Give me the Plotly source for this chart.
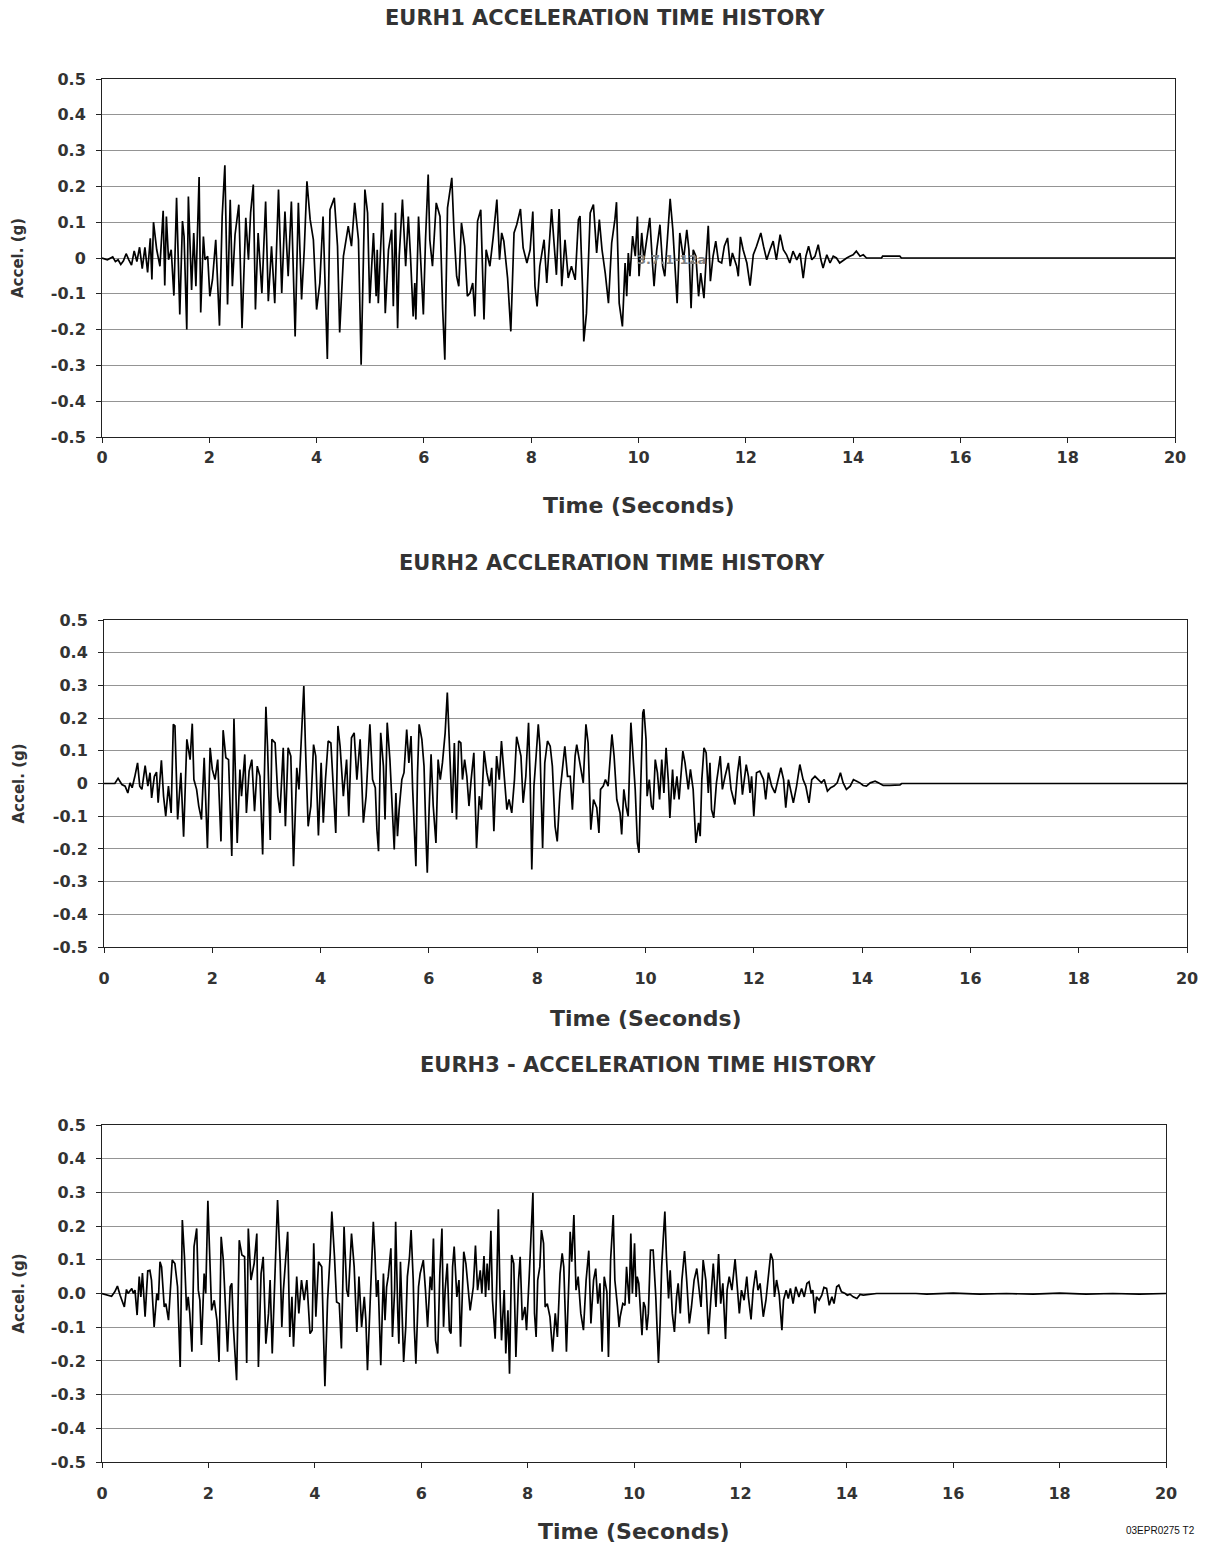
import plotly.graph_objects as go

# ---------------- DATA (time s, acceleration g) ----------------
EURH1 = [(0.0,0.0),(0.1,-0.005),(0.2,0.003),(0.25,-0.01),(0.3,-0.005),(0.35,-0.018),(0.4,-0.008),(0.45,0.012),
 (0.5,-0.005),(0.55,-0.02),(0.6,0.02),(0.65,-0.01),(0.7,0.03),(0.75,-0.03),(0.8,0.03),(0.85,-0.04),(0.9,0.055),
 (0.93,-0.06),(0.96,0.1),(1.02,0.023),(1.08,-0.023),(1.14,0.132),(1.17,-0.077),(1.2,0.116),(1.24,-0.005),
 (1.29,0.023),(1.34,-0.105),(1.39,0.168),(1.45,-0.158),(1.5,0.103),(1.53,0.06),(1.58,-0.2),(1.61,0.172),
 (1.67,-0.089),(1.71,0.07),(1.75,-0.079),(1.81,0.226),(1.84,-0.152),(1.89,0.06),(1.92,-0.005),(1.97,0.005),
 (2.01,-0.107),(2.06,-0.06),(2.12,0.051),(2.19,-0.189),(2.24,0.116),(2.29,0.259),(2.34,-0.13),(2.39,0.163),
 (2.43,-0.079),(2.48,0.065),(2.55,0.149),(2.61,-0.196),(2.68,0.112),(2.73,-0.005),(2.77,0.126),(2.82,0.205),
 (2.86,-0.144),(2.91,0.07),(2.98,-0.098),(3.05,0.158),(3.1,-0.121),(3.16,0.033),(3.22,-0.126),(3.29,0.191),
 (3.35,-0.098),(3.41,0.13),(3.47,-0.051),(3.53,0.158),(3.6,-0.219),(3.66,0.154),(3.72,-0.116),(3.77,0.023),
 (3.82,0.214),(3.88,0.107),(3.94,0.051),(4.0,-0.144),(4.06,-0.07),(4.12,0.116),(4.2,-0.282),(4.25,0.135),
 (4.33,0.168),(4.39,0.033),(4.43,-0.208),(4.5,0.005),(4.59,0.089),(4.65,0.033),(4.71,0.154),(4.78,0.051),
 (4.83,-0.298),(4.9,0.191),(4.95,0.126),(4.99,-0.126),(5.06,0.07),(5.11,-0.107),(5.13,0.023),(5.15,-0.126),
 (5.23,0.154),(5.28,-0.154),(5.34,0.023),(5.4,0.079),(5.43,-0.135),(5.47,0.126),(5.51,-0.196),(5.54,0.005),
 (5.6,0.163),(5.66,-0.023),(5.71,0.116),(5.75,0.005),(5.8,-0.163),(5.83,-0.07),(5.85,-0.172),(5.9,0.116),
 (5.94,-0.014),(5.99,-0.158),(6.03,0.051),(6.08,0.233),(6.11,0.051),(6.16,-0.023),(6.23,0.154),(6.3,0.116),
 (6.35,-0.144),(6.39,-0.284),(6.44,0.14),(6.49,0.191),(6.52,0.224),(6.56,0.079),(6.61,-0.051),(6.65,-0.079),
 (6.7,0.098),(6.76,0.033),(6.81,-0.107),(6.86,-0.098),(6.91,-0.07),(6.95,-0.163),(7.0,0.103),(7.06,0.135),
 (7.12,-0.172),(7.16,0.023),(7.23,-0.023),(7.29,0.056),(7.36,0.163),(7.41,-0.005),(7.45,0.07),(7.49,0.047),
 (7.56,-0.056),(7.62,-0.205),(7.68,0.07),(7.73,0.093),(7.8,0.137),(7.85,0.028),(7.92,-0.014),(7.98,0.023),
 (8.03,0.13),(8.07,-0.079),(8.11,-0.135),(8.16,-0.023),(8.24,0.051),(8.29,-0.07),(8.34,0.061),(8.38,0.137),
 (8.43,0.033),(8.47,-0.047),(8.52,0.137),(8.57,-0.079),(8.63,0.051),(8.69,-0.056),(8.75,-0.023),(8.82,-0.061),
 (8.88,0.107),(8.91,0.117),(8.96,-0.098),(8.98,-0.233),(9.03,-0.154),(9.1,0.126),(9.16,0.149),(9.22,0.014),
 (9.27,0.107),(9.32,0.023),(9.38,-0.042),(9.44,-0.126),(9.5,0.042),(9.56,0.107),(9.59,0.156),(9.64,-0.126),
 (9.7,-0.191),(9.75,-0.014),(9.78,-0.107),(9.81,0.014),(9.84,-0.051),(9.89,0.061),(9.94,0.005),(9.98,0.116),
 (10.01,-0.051),(10.06,0.07),(10.1,-0.005),(10.15,0.051),(10.21,0.112),(10.26,-0.014),(10.29,-0.079),
 (10.34,0.023),(10.4,0.093),(10.45,-0.023),(10.49,-0.051),(10.54,0.056),(10.59,0.165),(10.64,0.079),
 (10.68,-0.023),(10.72,-0.126),(10.77,0.07),(10.84,-0.005),(10.9,0.079),(10.94,0.023),(10.98,-0.14),
 (11.02,0.023),(11.07,0.005),(11.12,-0.107),(11.16,-0.042),(11.22,-0.112),(11.26,-0.005),(11.3,0.09),
 (11.34,-0.065),(11.39,0.005),(11.44,0.047),(11.49,-0.009),(11.55,-0.014),(11.6,0.033),(11.66,0.056),
 (11.71,-0.023),(11.75,0.014),(11.83,-0.023),(11.86,-0.051),(11.9,0.059),(11.95,0.023),(12.02,-0.014),
 (12.08,-0.077),(12.14,0.009),(12.2,0.033),(12.28,0.07),(12.33,0.033),(12.39,-0.005),(12.45,0.023),
 (12.51,0.047),(12.57,-0.005),(12.64,0.065),(12.7,0.023),(12.76,0.009),(12.82,-0.014),(12.88,0.019),
 (12.95,-0.005),(13.01,0.014),(13.07,-0.056),(13.12,0.005),(13.17,0.033),(13.23,-0.005),(13.29,0.005),
 (13.35,0.037),(13.4,-0.005),(13.44,-0.028),(13.51,0.009),(13.57,-0.014),(13.63,0.005),(13.69,0.0),
 (13.75,-0.014),(13.82,-0.005),(13.88,0.0),(13.94,0.005),(14.0,0.009),(14.06,0.019),(14.13,0.005),
 (14.19,0.009),(14.25,0.0),(14.53,0.0),(14.55,0.005),(14.87,0.005),(14.9,0.0),(20.0,0.0)]

EURH2 = [(0.0,0.0),(0.2,0.0),(0.26,0.016),(0.33,-0.003),(0.39,-0.008),(0.44,-0.029),(0.48,0.002),(0.52,-0.013),
 (0.57,0.022),(0.62,0.063),(0.66,-0.008),(0.7,-0.018),(0.76,0.055),(0.81,-0.008),(0.85,0.033),(0.88,-0.044),
 (0.93,0.022),(0.97,0.035),(1.0,-0.059),(1.06,0.071),(1.1,-0.039),(1.14,-0.1),(1.19,-0.008),(1.24,-0.09),
 (1.28,0.181),(1.31,0.176),(1.36,-0.11),(1.42,0.033),(1.47,-0.163),(1.53,0.135),(1.59,0.073),(1.63,0.183),
 (1.66,0.012),(1.71,-0.018),(1.75,-0.069),(1.8,-0.11),(1.85,0.079),(1.91,-0.197),(1.96,0.109),(2.0,0.043),
 (2.05,0.012),(2.1,0.073),(2.16,-0.177),(2.2,0.163),(2.25,0.079),(2.3,0.073),(2.36,-0.222),(2.4,0.198),
 (2.46,-0.182),(2.51,0.043),(2.54,-0.039),(2.6,0.089),(2.63,-0.09),(2.68,0.038),(2.73,0.073),(2.78,-0.085),
 (2.83,0.053),(2.88,0.022),(2.93,-0.217),(2.99,0.235),(3.02,0.114),(3.07,-0.173),(3.1,0.135),(3.16,0.124),
 (3.21,-0.039),(3.25,-0.09),(3.31,0.109),(3.35,-0.131),(3.4,0.109),(3.45,0.084),(3.5,-0.253),(3.56,0.048),
 (3.6,-0.018),(3.64,0.109),(3.69,0.298),(3.72,0.114),(3.77,-0.131),(3.82,-0.069),(3.87,0.119),(3.91,0.084),
 (3.96,-0.159),(4.01,0.063),(4.05,-0.12),(4.09,0.012),(4.14,0.13),(4.19,0.124),(4.24,-0.039),(4.28,-0.151),
 (4.32,0.176),(4.36,0.114),(4.42,-0.039),(4.48,0.073),(4.52,-0.1),(4.57,0.14),(4.62,0.155),(4.67,0.012),
 (4.73,0.135),(4.79,-0.12),(4.84,-0.039),(4.91,0.181),(4.96,0.012),(5.01,-0.013),(5.04,-0.141),(5.07,-0.207),
 (5.11,0.155),(5.16,0.053),(5.19,-0.11),(5.23,0.186),(5.28,0.073),(5.31,-0.049),(5.36,-0.202),(5.39,-0.029),
 (5.42,-0.161),(5.45,-0.08),(5.5,0.012),(5.54,0.033),(5.59,0.165),(5.63,0.063),(5.67,0.145),(5.7,-0.018),
 (5.73,-0.151),(5.76,-0.253),(5.79,0.033),(5.82,0.181),(5.87,0.135),(5.91,0.053),(5.95,-0.182),(5.97,-0.273),
 (6.0,-0.1),(6.04,0.089),(6.08,-0.069),(6.13,-0.182),(6.17,0.073),(6.21,0.012),(6.25,0.063),(6.3,0.155),
 (6.34,0.278),(6.39,0.084),(6.43,-0.09),(6.47,0.124),(6.51,-0.11),(6.55,0.13),(6.59,0.124),(6.62,0.012),
 (6.66,0.073),(6.7,0.022),(6.74,-0.069),(6.78,0.012),(6.83,0.094),(6.88,-0.197),(6.93,-0.039),(6.97,-0.08),
 (7.02,0.099),(7.07,0.033),(7.12,-0.008),(7.16,0.048),(7.2,-0.146),(7.25,0.084),(7.3,0.012),(7.34,0.13),
 (7.39,0.022),(7.44,-0.08),(7.48,-0.049),(7.53,-0.09),(7.58,0.012),(7.62,0.143),(7.66,0.114),(7.7,0.084),
 (7.74,-0.059),(7.79,0.022),(7.84,0.186),(7.87,0.012),(7.9,-0.263),(7.94,-0.008),(7.98,0.084),(8.02,0.181),
 (8.05,0.114),(8.1,-0.197),(8.14,0.063),(8.19,0.13),(8.24,0.114),(8.28,0.053),(8.33,-0.131),(8.37,-0.177),
 (8.42,-0.029),(8.47,0.053),(8.51,0.114),(8.56,0.022),(8.61,0.022),(8.65,-0.08),(8.7,0.084),(8.73,0.119),
 (8.79,0.063),(8.85,0.002),(8.9,0.181),(8.94,0.124),(8.99,-0.141),(9.04,-0.049),(9.1,-0.074),(9.14,-0.151),
 (9.17,-0.018),(9.22,-0.008),(9.26,0.012),(9.31,-0.008),(9.38,0.15),(9.42,0.084),(9.47,-0.049),(9.53,-0.09),
 (9.56,-0.156),(9.6,-0.018),(9.64,-0.069),(9.68,-0.1),(9.73,0.186),(9.78,0.063),(9.81,-0.018),(9.85,-0.182),
 (9.88,-0.212),(9.91,-0.018),(9.95,0.216),(9.97,0.227),(10.01,0.135),(10.03,-0.039),(10.07,0.012),
 (10.11,-0.069),(10.14,-0.08),(10.18,0.073),(10.22,0.033),(10.26,-0.049),(10.3,0.073),(10.34,-0.029),
 (10.38,0.109),(10.42,0.012),(10.45,-0.105),(10.5,0.043),(10.53,-0.049),(10.58,0.022),(10.62,-0.049),
 (10.69,0.099),(10.73,0.063),(10.79,-0.018),(10.83,0.043),(10.88,-0.018),(10.93,-0.182),(10.98,-0.12),
 (11.01,-0.161),(11.04,0.012),(11.08,0.109),(11.12,0.094),(11.16,-0.029),(11.19,0.063),(11.22,-0.08),
 (11.26,-0.105),(11.31,0.002),(11.38,0.084),(11.42,-0.018),(11.47,0.022),(11.53,0.063),(11.58,-0.018),
 (11.65,-0.064),(11.7,0.033),(11.74,0.084),(11.79,-0.034),(11.86,0.058),(11.9,0.022),(11.93,-0.029),
 (11.96,0.022),(12.0,-0.1),(12.05,0.033),(12.11,0.038),(12.18,0.012),(12.22,-0.049),(12.27,0.033),
 (12.33,-0.008),(12.39,-0.029),(12.45,0.012),(12.5,0.048),(12.55,0.012),(12.59,-0.074),(12.64,0.012),
 (12.68,-0.018),(12.73,-0.059),(12.79,-0.008),(12.85,0.058),(12.91,0.012),(12.96,-0.008),(13.02,-0.059),
 (13.07,0.012),(13.13,0.022),(13.19,0.012),(13.25,0.002),(13.3,0.012),(13.36,-0.023),(13.42,-0.013),
 (13.48,-0.008),(13.54,0.002),(13.6,0.033),(13.65,0.002),(13.71,-0.018),(13.78,-0.008),(13.84,0.012),
 (13.9,0.007),(13.96,0.002),(14.02,-0.006),(14.08,-0.008),(14.15,0.002),(14.24,0.007),(14.3,0.002),
 (14.39,-0.006),(14.51,-0.006),(14.7,-0.004),(14.73,0.0),(20.0,0.0)]

EURH3 = [(0.0,0.0),(0.18,-0.008),(0.24,0.005),(0.29,0.022),(0.34,-0.005),(0.42,-0.04),(0.46,0.012),(0.49,0.0),
 (0.56,0.015),(0.59,0.0),(0.62,0.01),(0.66,-0.064),(0.7,0.05),(0.73,-0.01),(0.76,0.061),(0.81,-0.069),
 (0.86,0.067),(0.9,0.069),(0.93,0.04),(0.98,-0.099),(1.03,0.0),(1.06,-0.02),(1.09,0.094),(1.12,0.079),
 (1.17,-0.04),(1.2,-0.03),(1.25,-0.079),(1.29,0.04),(1.32,0.099),(1.37,0.089),(1.42,0.02),(1.47,-0.218),
 (1.51,0.218),(1.55,0.109),(1.59,-0.05),(1.62,-0.01),(1.65,-0.059),(1.69,-0.173),(1.73,0.139),(1.78,0.193),
 (1.81,0.01),(1.84,-0.02),(1.87,-0.153),(1.92,0.059),(1.95,0.0),(1.99,0.275),(2.03,0.099),(2.06,-0.05),
 (2.11,-0.02),(2.16,-0.079),(2.2,-0.203),(2.24,0.168),(2.28,0.099),(2.31,-0.01),(2.36,-0.173),(2.41,0.02),
 (2.44,0.03),(2.47,-0.099),(2.5,-0.168),(2.53,-0.257),(2.58,0.158),(2.63,0.114),(2.68,0.109),(2.72,-0.206),
 (2.75,0.193),(2.8,0.04),(2.86,0.089),(2.91,0.178),(2.94,-0.218),(2.99,0.059),(3.03,0.109),(3.08,-0.149),
 (3.13,-0.059),(3.16,0.04),(3.2,-0.178),(3.25,0.069),(3.3,0.277),(3.35,0.089),(3.38,-0.099),(3.41,0.01),
 (3.46,0.119),(3.49,0.183),(3.53,-0.129),(3.57,-0.01),(3.6,-0.158),(3.63,-0.04),(3.66,0.05),(3.7,-0.059),
 (3.75,0.04),(3.8,-0.02),(3.85,0.04),(3.91,-0.119),(3.95,-0.109),(3.98,0.149),(4.02,-0.069),(4.07,0.094),
 (4.13,0.079),(4.19,-0.275),(4.24,-0.02),(4.29,0.119),(4.32,0.243),(4.37,0.109),(4.41,-0.025),(4.46,-0.03),
 (4.5,-0.163),(4.55,0.198),(4.6,0.01),(4.63,-0.01),(4.69,0.178),(4.74,0.079),(4.79,-0.114),(4.83,0.05),
 (4.88,-0.099),(4.93,-0.01),(4.96,-0.079),(4.99,-0.228),(5.04,-0.01),(5.07,0.139),(5.1,0.213),(5.13,0.119),
 (5.16,-0.01),(5.19,0.04),(5.24,-0.213),(5.29,0.059),(5.32,-0.079),(5.35,0.02),(5.38,0.05),(5.43,0.134),
 (5.46,-0.129),(5.5,0.01),(5.52,0.213),(5.56,-0.059),(5.58,-0.149),(5.61,0.094),(5.65,-0.099),(5.67,-0.203),
 (5.71,-0.099),(5.74,0.05),(5.78,0.109),(5.81,0.188),(5.85,0.04),(5.87,-0.099),(5.9,-0.208),(5.95,0.02),
 (5.98,0.059),(6.04,0.099),(6.08,0.01),(6.12,-0.099),(6.17,0.05),(6.2,0.01),(6.23,0.163),(6.27,-0.139),
 (6.31,-0.178),(6.35,0.059),(6.39,0.193),(6.42,-0.099),(6.45,0.01),(6.49,0.089),(6.53,-0.109),(6.56,-0.119),
 (6.59,0.079),(6.62,0.139),(6.67,-0.01),(6.71,0.04),(6.74,-0.158),(6.78,0.059),(6.8,0.124),(6.84,0.089),
 (6.89,0.01),(6.92,-0.05),(6.98,0.02),(7.02,0.142),(7.06,0.01),(7.11,0.069),(7.14,0.0),(7.18,0.111),
 (7.21,-0.01),(7.24,0.089),(7.27,0.01),(7.31,0.186),(7.34,-0.02),(7.39,-0.134),(7.42,0.03),(7.45,0.25),
 (7.48,0.01),(7.51,-0.139),(7.56,0.01),(7.59,-0.178),(7.63,-0.05),(7.66,-0.238),(7.7,0.114),(7.74,0.089),
 (7.78,-0.188),(7.83,0.04),(7.86,0.109),(7.9,-0.079),(7.95,-0.04),(7.98,-0.109),(8.03,0.05),(8.06,0.168),
 (8.1,0.299),(8.13,-0.059),(8.16,-0.129),(8.19,0.04),(8.23,0.079),(8.26,0.188),(8.3,0.149),(8.33,-0.04),
 (8.37,-0.03),(8.42,-0.069),(8.47,-0.173),(8.52,-0.059),(8.56,-0.129),(8.61,0.059),(8.65,0.119),(8.68,0.079),
 (8.73,-0.173),(8.78,0.059),(8.8,0.183),(8.83,0.094),(8.87,0.233),(8.91,0.01),(8.95,0.05),(9.0,-0.059),
 (9.05,-0.109),(9.1,0.04),(9.15,0.127),(9.19,-0.089),(9.24,0.04),(9.28,0.074),(9.32,-0.03),(9.36,0.03),
 (9.4,-0.173),(9.44,0.05),(9.49,0.005),(9.52,-0.188),(9.56,0.099),(9.61,0.233),(9.64,0.04),(9.69,-0.04),
 (9.72,-0.099),(9.74,-0.069),(9.79,-0.03),(9.83,-0.035),(9.86,0.079),(9.91,-0.03),(9.94,0.178),(9.97,0.0),
 (10.01,0.149),(10.04,-0.01),(10.06,0.05),(10.09,0.03),(10.13,-0.079),(10.15,-0.124),(10.18,-0.025),
 (10.21,-0.04),(10.24,-0.109),(10.27,-0.059),(10.31,0.129),(10.36,0.129),(10.41,-0.01),(10.46,-0.206),
 (10.49,-0.089),(10.52,0.079),(10.55,0.163),(10.58,0.243),(10.61,0.109),(10.65,-0.015),(10.68,0.069),
 (10.72,-0.059),(10.76,-0.114),(10.8,-0.01),(10.83,0.03),(10.87,-0.059),(10.9,0.04),(10.95,0.126),
 (10.99,0.04),(11.04,-0.089),(11.08,-0.04),(11.13,0.04),(11.18,0.074),(11.22,0.01),(11.26,-0.04),
 (11.3,0.099),(11.35,0.04),(11.4,-0.121),(11.44,-0.02),(11.49,0.089),(11.54,-0.04),(11.59,0.117),
 (11.63,-0.03),(11.67,0.03),(11.72,-0.135),(11.75,0.01),(11.79,0.05),(11.84,0.01),(11.9,0.102),(11.94,0.02),
 (11.98,-0.059),(12.02,0.01),(12.07,-0.02),(12.12,0.05),(12.15,-0.01),(12.2,-0.077),(12.24,0.01),
 (12.29,0.069),(12.33,0.01),(12.37,0.03),(12.43,-0.069),(12.48,-0.02),(12.53,0.05),(12.57,0.119),
 (12.61,0.099),(12.64,-0.01),(12.68,0.04),(12.73,-0.005),(12.78,-0.109),(12.81,-0.02),(12.86,0.01),
 (12.9,-0.015),(12.94,0.015),(12.99,-0.03),(13.04,0.02),(13.1,-0.01),(13.15,0.015),(13.2,-0.01),(13.25,0.03),
 (13.29,0.035),(13.33,0.0),(13.36,0.01),(13.4,-0.059),(13.43,-0.01),(13.48,-0.02),(13.53,-0.005),
 (13.57,0.018),(13.62,0.015),(13.67,-0.035),(13.72,-0.01),(13.76,-0.03),(13.81,0.02),(13.85,0.025),
 (13.9,0.005),(13.97,0.0),(14.01,-0.005),(14.06,-0.002),(14.12,-0.01),(14.19,-0.015),(14.25,-0.003),
 (14.31,-0.005),(14.4,-0.003),(14.5,-0.002),(14.56,0.0),(15.3,0.0),(15.5,-0.002),(16.0,0.001),(16.5,-0.002),
 (17.0,0.0),(17.5,-0.002),(18.0,0.001),(18.5,-0.002),(19.0,0.0),(19.5,-0.002),(20.0,0.0)]

SERIES = [EURH1, EURH2, EURH3]
TITLES = ["EURH1 ACCELERATION TIME HISTORY", "EURH2 ACCLERATION TIME HISTORY",
          "EURH3 - ACCELERATION TIME HISTORY"]
X_TITLE = "Time (Seconds)"
Y_TITLE = "Accel. (g)"
X_TICKS = [0, 2, 4, 6, 8, 10, 12, 14, 16, 18, 20]
Y_TICKS = [-0.5, -0.4, -0.3, -0.2, -0.1, 0.0, 0.1, 0.2, 0.3, 0.4, 0.5]
Y_TEXT_A = ["-0.5", "-0.4", "-0.3", "-0.2", "-0.1", "0", "0.1", "0.2", "0.3", "0.4", "0.5"]
Y_TEXT_B = ["-0.5", "-0.4", "-0.3", "-0.2", "-0.1", "0.0", "0.1", "0.2", "0.3", "0.4", "0.5"]
Y_TEXTS = [Y_TEXT_A, Y_TEXT_A, Y_TEXT_B]
STAMP = "3.7.1-12a"
FOOTER = "03EPR0275 T2"

# ---------------- LAYOUT (pixel positions on the 1209 x 1545 page) ----------------
W, H = 1209, 1545

def fx(x):
    return x / W

def fy(y):
    return 1 - y / H

PANELS = [
    dict(x0=102, x1=1175, y0=79, y1=437, tx=605, ty=18, xty=505, xso=1),
    dict(x0=104, x1=1187, y0=620, y1=947, tx=612, ty=563, xty=1018, xso=12),
    dict(x0=102, x1=1166, y0=1125, y1=1462, tx=648, ty=1065, xty=1531, xso=12),
]

FONT = "DejaVu Sans"
TXT = "#333333"

fig = go.Figure()
layout = dict(width=W, height=H, margin=dict(l=0, r=0, t=0, b=0, autoexpand=False),
              paper_bgcolor="white", plot_bgcolor="white", showlegend=False,
              template="none", annotations=[])

for i, (pts, p) in enumerate(zip(SERIES, PANELS)):
    n = "" if i == 0 else str(i + 1)
    t = [q[0] for q in pts]
    a = [q[1] for q in pts]
    fig.add_trace(go.Scatter(x=t, y=a, mode="lines", xaxis="x" + n, yaxis="y" + n,
                             line=dict(color="black", width=1.7), hoverinfo="skip"))
    layout["xaxis" + n] = dict(
        domain=[fx(p["x0"]), fx(p["x1"])], anchor="y" + n, range=[0, 20], automargin=False,
        tickvals=X_TICKS, ticks="outside", ticklen=5, tickcolor="#222", tickwidth=1,
        showline=True, linecolor="#222", linewidth=1, mirror=True,
        showgrid=False, zeroline=False, ticklabelstandoff=p["xso"],
        tickfont=dict(family=FONT, size=16, color=TXT, weight="bold"))
    layout["yaxis" + n] = dict(
        domain=[fy(p["y1"]), fy(p["y0"])], anchor="x" + n, range=[-0.5, 0.5], automargin=False,
        tickvals=Y_TICKS, ticktext=Y_TEXTS[i], ticks="outside", ticklen=5, tickcolor="#222",
        tickwidth=1, showline=True, linecolor="#222", linewidth=1, mirror=True,
        showgrid=True, gridcolor="#949494", gridwidth=1, zeroline=False,
        ticklabelstandoff=7,
        tickfont=dict(family=FONT, size=16, color=TXT, weight="bold"))
    layout["annotations"] += [
        dict(text=TITLES[i], x=fx(p["tx"]), y=fy(p["ty"]), xref="paper", yref="paper",
             xanchor="center", yanchor="middle", showarrow=False,
             font=dict(family=FONT, size=21, color=TXT, weight="bold")),
        dict(text=X_TITLE, x=fx((p["x0"] + p["x1"]) / 2), y=fy(p["xty"]), xref="paper", yref="paper",
             xanchor="center", yanchor="middle", showarrow=False,
             font=dict(family=FONT, size=22, color=TXT, weight="bold")),
        dict(text=Y_TITLE, x=fx(18), y=fy((p["y0"] + p["y1"]) / 2), xref="paper", yref="paper",
             xanchor="center", yanchor="middle", showarrow=False, textangle=-90,
             font=dict(family=FONT, size=15, color=TXT, weight="bold")),
    ]

layout["annotations"] += [
    dict(text=STAMP, x=10.62, y=-0.005, xref="x", yref="y", xanchor="center", yanchor="middle",
         showarrow=False, font=dict(family=FONT, size=13, color="#808080", weight="bold")),
    dict(text=FOOTER, x=fx(1160), y=fy(1530), xref="paper", yref="paper", xanchor="center",
         yanchor="middle", showarrow=False, font=dict(family="Liberation Sans", size=10, color="#111")),
]

fig.update_layout(**layout)
fig.write_html("out.html", config={"displayModeBar": False},
               post_script="document.body.style.margin='0';document.body.style.overflow='hidden';")
